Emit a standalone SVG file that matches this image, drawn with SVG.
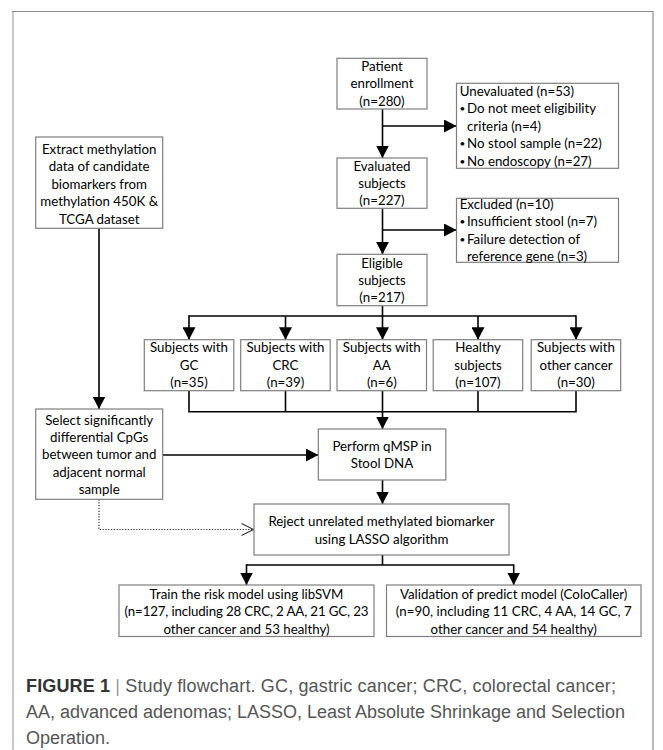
<svg xmlns="http://www.w3.org/2000/svg" width="663" height="750" viewBox="0 0 663 750">
<style>
.box{fill:#fff;stroke:#7f7f7f;stroke-width:1.2}
.t{font-family:Lato,"Liberation Sans",sans-serif;font-size:13.3px;fill:#000}
.b{font-family:Lato,"Liberation Sans",sans-serif;font-size:10px;fill:#000}
.c{text-anchor:middle}
.ln{stroke:#000;stroke-width:1.6;fill:none}
.dot{stroke:#333;stroke-width:1.2;fill:none;stroke-dasharray:1.2 1.6}
.cap{font-family:"Liberation Sans",Arial,sans-serif;font-size:18px;fill:#555}
</style>
<defs>
<marker id="ah" markerUnits="userSpaceOnUse" markerWidth="13" markerHeight="13" refX="12.5" refY="6.5" orient="auto">
<path d="M0,0 L12.5,6.5 L0,13 z" fill="#000"/>
</marker>
<marker id="oh" markerUnits="userSpaceOnUse" markerWidth="14" markerHeight="14" refX="12.5" refY="7" orient="auto">
<path d="M0.5,1 L12.5,7 L0.5,13" fill="none" stroke="#333" stroke-width="1.1"/>
</marker>
</defs>
<rect width="663" height="750" fill="#fff"/>
<g id="frame">
<line x1="13" y1="11.5" x2="13" y2="750" stroke="#c8c8c8" stroke-width="2"/>
<path d="M12,11.5 H653 V750" fill="none" stroke="#8c8c8c" stroke-width="1.2"/>
</g>
<g id="connectors">
<line class="ln" x1="382.5" y1="109" x2="382.5" y2="158" marker-end="url(#ah)"/>
<line class="ln" x1="382.5" y1="126" x2="456.5" y2="126" marker-end="url(#ah)"/>
<line class="ln" x1="382.5" y1="208.5" x2="382.5" y2="254.3" marker-end="url(#ah)"/>
<line class="ln" x1="382.5" y1="230" x2="456.5" y2="230" marker-end="url(#ah)"/>
<line class="ln" x1="382.5" y1="305.7" x2="382.5" y2="339.7" marker-end="url(#ah)"/>
<line class="ln" x1="189" y1="316" x2="576" y2="316"/>
<line class="ln" x1="189" y1="315.2" x2="189" y2="339.7" marker-end="url(#ah)"/>
<line class="ln" x1="285.5" y1="316" x2="285.5" y2="339.7" marker-end="url(#ah)"/>
<line class="ln" x1="478" y1="316" x2="478" y2="339.7" marker-end="url(#ah)"/>
<line class="ln" x1="576" y1="315.2" x2="576" y2="339.7" marker-end="url(#ah)"/>
<path class="ln" d="M189,390.7 V411.7 H576 V390.7 M285.5,390.7 V411.7 M478,390.7 V411.7"/>
<line class="ln" x1="382.5" y1="390.7" x2="382.5" y2="429" marker-end="url(#ah)"/>
<line class="ln" x1="99" y1="228.3" x2="99" y2="409" marker-end="url(#ah)"/>
<line class="ln" x1="162.7" y1="455" x2="318.3" y2="455" marker-end="url(#ah)"/>
<line class="ln" x1="382.5" y1="480" x2="382.5" y2="504" marker-end="url(#ah)"/>
<path class="dot" d="M99,499.5 V529.5 H253.5" marker-end="url(#oh)"/>
<line class="ln" x1="382.5" y1="555" x2="382.5" y2="565"/>
<line class="ln" x1="246.5" y1="565" x2="513.7" y2="565"/>
<line class="ln" x1="246.5" y1="564.2" x2="246.5" y2="585" marker-end="url(#ah)"/>
<line class="ln" x1="513.7" y1="564.2" x2="513.7" y2="585" marker-end="url(#ah)"/>
</g>
<g id="patient">
<rect class="box" x="337" y="58.3" width="90" height="50.7"/>
<text class="t c" x="382" y="71">Patient</text>
<text class="t c" x="382" y="88.3">enrollment</text>
<text class="t c" x="382" y="105.5">(n=280)</text>
</g>
<g id="unevaluated">
<rect class="box" x="456.5" y="83.3" width="162" height="85"/>
<text class="t" x="459.7" y="95.5">Unevaluated (n=53)</text>
<text class="b" x="459.5" y="112">•</text><text class="t" x="467" y="113">Do not meet eligibility</text>
<text class="t" x="467" y="130.5">criteria (n=4)</text>
<text class="b" x="459.5" y="147">•</text><text class="t" x="467" y="148">No stool sample (n=22)</text>
<text class="b" x="459.5" y="164.5">•</text><text class="t" x="467" y="165.5">No endoscopy (n=27)</text>
</g>
<g id="evaluated">
<rect class="box" x="337" y="158" width="90" height="50.3"/>
<text class="t c" x="382" y="170.5">Evaluated</text>
<text class="t c" x="382" y="187.8">subjects</text>
<text class="t c" x="382" y="205">(n=227)</text>
</g>
<g id="excluded">
<rect class="box" x="456.5" y="198.3" width="162" height="64"/>
<text class="t" x="459.7" y="208.5">Excluded (n=10)</text>
<text class="b" x="459.5" y="225">•</text><text class="t" x="467" y="226">Insufficient stool (n=7)</text>
<text class="b" x="459.5" y="242.5">•</text><text class="t" x="467" y="243.5">Failure detection of</text>
<text class="t" x="467" y="261">reference gene (n=3)</text>
</g>
<g id="eligible">
<rect class="box" x="337" y="254.3" width="90" height="51.4"/>
<text class="t c" x="382" y="267.5">Eligible</text>
<text class="t c" x="382" y="285">subjects</text>
<text class="t c" x="382" y="302">(n=217)</text>
</g>
<g id="extract">
<rect class="box" x="35.7" y="137" width="127" height="91.3"/>
<text class="t c" x="99.2" y="153.5">Extract methylation</text>
<text class="t c" x="99.2" y="171">data of candidate</text>
<text class="t c" x="99.2" y="188.5">biomarkers from</text>
<text class="t c" x="99.2" y="206">methylation 450K &amp;</text>
<text class="t c" x="99.2" y="223.5">TCGA dataset</text>
</g>
<g id="gc">
<rect class="box" x="144.3" y="339.7" width="89.5" height="51"/>
<text class="t c" x="189" y="352">Subjects with</text>
<text class="t c" x="189" y="369.5">GC</text>
<text class="t c" x="189" y="387">(n=35)</text>
</g>
<g id="crc">
<rect class="box" x="240.7" y="339.7" width="89.5" height="51"/>
<text class="t c" x="285.5" y="352">Subjects with</text>
<text class="t c" x="285.5" y="369.5">CRC</text>
<text class="t c" x="285.5" y="387">(n=39)</text>
</g>
<g id="aa">
<rect class="box" x="337" y="339.7" width="89.5" height="51"/>
<text class="t c" x="381.8" y="352">Subjects with</text>
<text class="t c" x="381.8" y="369.5">AA</text>
<text class="t c" x="381.8" y="387">(n=6)</text>
</g>
<g id="healthy">
<rect class="box" x="433.2" y="339.7" width="89.5" height="51"/>
<text class="t c" x="478" y="352">Healthy</text>
<text class="t c" x="478" y="369.5">subjects</text>
<text class="t c" x="478" y="387">(n=107)</text>
</g>
<g id="other">
<rect class="box" x="531.2" y="339.7" width="89.5" height="51"/>
<text class="t c" x="576" y="352">Subjects with</text>
<text class="t c" x="576" y="369.5">other cancer</text>
<text class="t c" x="576" y="387">(n=30)</text>
</g>
<g id="select">
<rect class="box" x="35.7" y="409" width="127" height="90.3"/>
<text class="t c" x="99.2" y="424.5">Select significantly</text>
<text class="t c" x="99.2" y="442">differential CpGs</text>
<text class="t c" x="99.2" y="459.3">between tumor and</text>
<text class="t c" x="99.2" y="476.7">adjacent normal</text>
<text class="t c" x="99.2" y="494">sample</text>
</g>
<g id="qmsp">
<rect class="box" x="318.3" y="429" width="127.5" height="51"/>
<text class="t c" x="382" y="450.5">Perform qMSP in</text>
<text class="t c" x="382" y="468">Stool DNA</text>
</g>
<g id="reject">
<rect class="box" x="254" y="504" width="255" height="51"/>
<text class="t c" x="381.5" y="526">Reject unrelated methylated biomarker</text>
<text class="t c" x="381.5" y="543.5">using LASSO algorithm</text>
</g>
<g id="train">
<rect class="box" x="119" y="585" width="255" height="51.5"/>
<text class="t c" x="246.5" y="598.8">Train the risk model using libSVM</text>
<text class="t c" x="246.5" y="616.2" textLength="244">(n=127, including 28 CRC, 2 AA, 21 GC, 23</text>
<text class="t c" x="246.5" y="633.5">other cancer and 53 healthy)</text>
</g>
<g id="validation">
<rect class="box" x="386.5" y="585" width="254.5" height="51.5"/>
<text class="t c" x="513.7" y="598.8">Validation of predict model (ColoCaller)</text>
<text class="t c" x="513.7" y="616.2" textLength="236">(n=90, including 11 CRC, 4 AA, 14 GC, 7</text>
<text class="t c" x="513.7" y="633.5">other cancer and 54 healthy)</text>
</g>
<g id="caption">
<text class="cap" x="26" y="692" textLength="590"><tspan font-weight="bold" fill="#333">FIGURE 1</tspan><tspan fill="#999"> | </tspan>Study flowchart. GC, gastric cancer; CRC, colorectal cancer;</text>
<text class="cap" x="26" y="718" textLength="599">AA, advanced adenomas; LASSO, Least Absolute Shrinkage and Selection</text>
<text class="cap" x="26" y="744">Operation.</text>
</g>
</svg>
